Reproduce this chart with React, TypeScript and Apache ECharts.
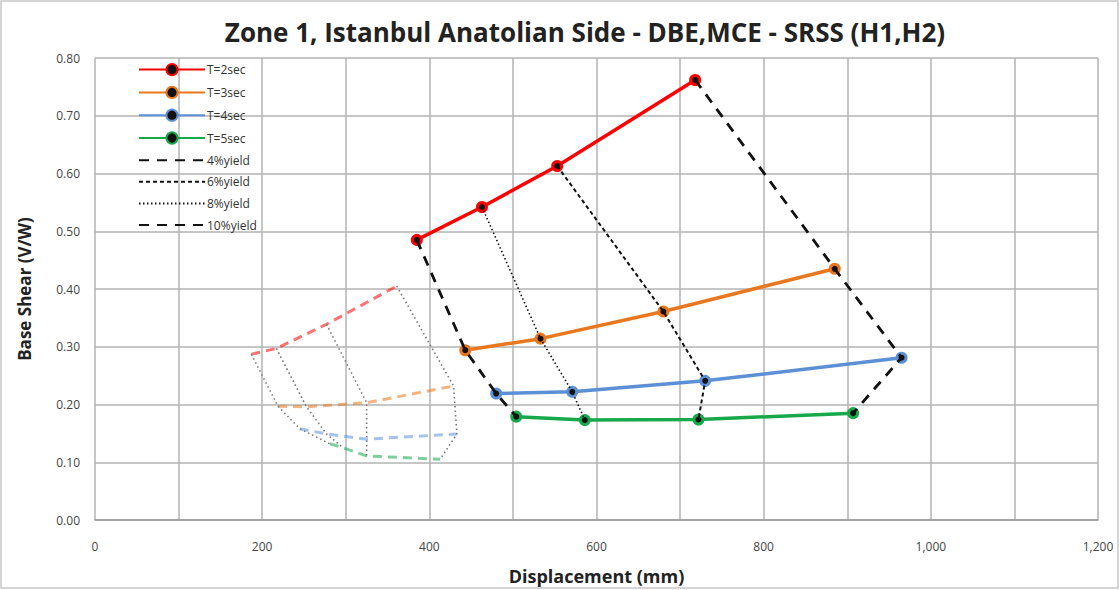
import React, { useEffect, useRef } from "react";
import * as echarts from "echarts";

// Main series: [displacement mm, base shear V/W]
const t2: number[][] = [[385, 0.485], [463, 0.542], [553, 0.613], [718, 0.762]];
const t3: number[][] = [[443, 0.294], [533, 0.314], [680, 0.361], [885, 0.435]];
const t4: number[][] = [[480, 0.219], [571, 0.222], [730, 0.241], [965, 0.281]];
const t5: number[][] = [[504, 0.179], [586, 0.173], [722, 0.174], [907, 0.185]];

// Faded (background) series
const f2: number[][] = [[187, 0.287], [217, 0.297], [277, 0.339], [361, 0.405]];
const f3: number[][] = [[219, 0.197], [253, 0.196], [325, 0.203], [429, 0.232]];
const f4: number[][] = [[245, 0.158], [277, 0.149], [325, 0.140], [433, 0.149]];
const f5: number[][] = [[281, 0.132], [297, 0.125], [325, 0.111], [413, 0.105]];

const seriesNames = ["T=2sec", "T=3sec", "T=4sec", "T=5sec"];
const yieldNames = ["4%yield", "6%yield", "8%yield", "10%yield"];
const xTicks = [0, 200, 400, 600, 800, 1000, 1200];
const yTicks = [0, 0.1, 0.2, 0.3, 0.4, 0.5, 0.6, 0.7, 0.8];
const titleText = "Zone 1, Istanbul Anatolian Side - DBE,MCE - SRSS (H1,H2)";

const colors = ["#ff0000", "#e8771e", "#5b8fd6", "#16a84a"];

export default function App() {
  const ref = useRef<HTMLDivElement>(null);
  useEffect(() => {
    if (!ref.current) return;
    const chart = echarts.init(ref.current, null, { renderer: "svg" });
    const mains = [t2, t3, t4, t5];
    const fades = [f2, f3, f4, f5];
    const font = "'Open Sans', 'Liberation Sans', sans-serif";

    const mainSeries = mains.map((d, i) => ({
      name: seriesNames[i],
      type: "line",
      data: d,
      symbol: "circle",
      symbolSize: 9,
      z: 3,
      lineStyle: { color: colors[i], width: 3.5 },
      itemStyle: { color: "#111", borderColor: colors[i], borderWidth: 3 },
    }));

    // yield lines through the same-index point of each main series
    const yieldIdx = [0, 2, 1, 3];
    const yieldStyles = [
      { type: [10, 8], width: 2.8 },
      { type: [4, 3], width: 2 },
      { type: [1.5, 2.5], width: 1.6 },
      { type: [10, 8], width: 2.8 },
    ];
    const yieldSeries = yieldNames.map((n, k) => ({
      name: n,
      type: "line",
      data: mains.map((s) => s[yieldIdx[k]]),
      symbol: "none",
      z: 4,
      lineStyle: { color: "#111", width: yieldStyles[k].width, type: yieldStyles[k].type },
      itemStyle: { color: "#111" },
    }));

    const fadeSeries = fades.map((d, i) => ({
      name: "f" + i,
      type: "line",
      data: d,
      symbol: "none",
      z: 2,
      lineStyle: { color: colors[i], width: 3, type: [9, 6], opacity: 0.55 },
    }));
    const fadeYield = [0, 1, 2, 3].map((k) => ({
      name: "fy" + k,
      type: "line",
      data: fades.map((s) => s[k]),
      symbol: "none",
      z: 2,
      lineStyle: { color: "#777", width: 1.6, type: [1.5, 3] },
    }));

    chart.setOption({
      animation: false,
      backgroundColor: "#fff",
      legend: {
        data: [
          ...seriesNames.map((n) => ({ name: n })),
          ...yieldNames.map((n) => ({ name: n, itemStyle: { opacity: 0 } })),
        ],
        orient: "vertical",
        left: 133,
        top: 58,
        itemWidth: 66,
        itemHeight: 14,
        itemGap: 9.6,
        textStyle: { fontFamily: font, fontSize: 12, color: "#333", padding: [0, 0, 0, -3] },
      },
      grid: { left: 95, right: 22, top: 58, bottom: 69 },
      xAxis: {
        type: "value",
        min: 0,
        max: 1200,
        interval: 100,
        name: "Displacement (mm)",
        nameLocation: "middle",
        nameGap: 47,
        nameTextStyle: { fontFamily: font, fontSize: 18, fontWeight: "bold", color: "#222" },
        axisLine: { lineStyle: { color: "#999", width: 1.5 } },
        axisTick: { show: false },
        axisLabel: {
          margin: 20,
          fontFamily: font,
          fontSize: 12,
          color: "#444",
          formatter: (v: number) => (xTicks.includes(v) ? v.toLocaleString("en-US") : ""),
        },
        splitLine: { show: true, lineStyle: { color: "#b3b3b3", width: 1.5 } },
      },
      yAxis: {
        type: "value",
        min: 0,
        max: 0.8,
        interval: 0.1,
        name: "Base Shear (V/W)",
        nameLocation: "middle",
        nameRotate: 90,
        nameGap: 62,
        nameTextStyle: { fontFamily: font, fontSize: 17, fontWeight: "bold", color: "#222" },
        axisLine: { show: false },
        axisTick: { show: false },
        axisLabel: {
          margin: 15,
          fontFamily: font,
          fontSize: 12,
          color: "#444",
          formatter: (v: number) => {
            const t = yTicks.find((y) => Math.abs(y - v) < 1e-6);
            return t === undefined ? "" : t.toFixed(2);
          },
        },
        splitLine: { show: true, lineStyle: { color: "#b3b3b3", width: 1.5 } },
      },
      graphic: [
        {
          type: "rect",
          shape: { x: 1, y: 1, width: 1117, height: 587 },
          style: { fill: "none", stroke: "#c8c8c8", lineWidth: 1.5 },
          silent: true,
        },
        {
          type: "text",
          x: 585,
          y: 32,
          style: {
            text: titleText,
            fontFamily: font,
            fontSize: 26,
            fontWeight: "bold",
            fill: "#222",
            align: "center",
            verticalAlign: "middle",
          },
          silent: true,
        },
      ],
      series: [...fadeSeries, ...fadeYield, ...mainSeries, ...yieldSeries],
    });
    return () => chart.dispose();
  }, []);
  return (
    <div
      ref={ref}
      style={{ position: "fixed", left: 0, top: 0, width: 1120, height: 590 }}
    />
  );
}
